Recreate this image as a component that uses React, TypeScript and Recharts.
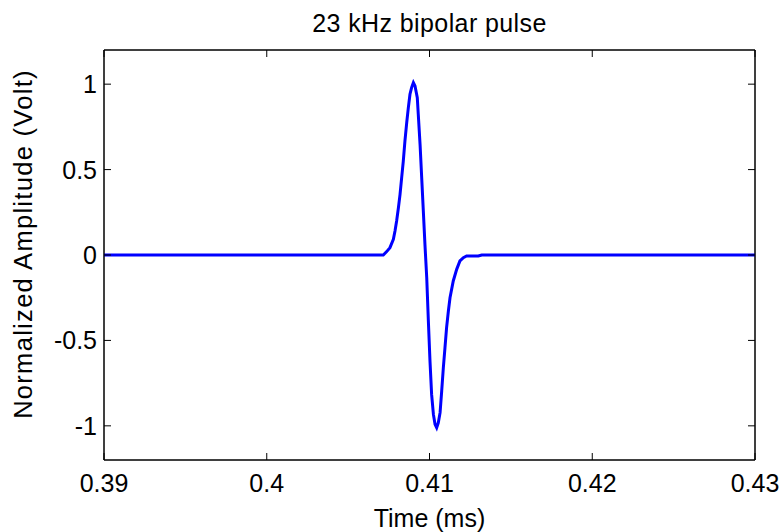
import { LineChart, Line, XAxis, YAxis, ReferenceArea } from "recharts";

// ─── Data ────────────────────────────────────────────────────────────────────

const timeMs = [
	0.39, 0.40716, 0.40737, 0.40757, 0.40778, 0.40788, 0.40798, 0.40809, 0.40819, 0.40829,
	0.40839, 0.40849, 0.4086, 0.4087, 0.4088, 0.4089, 0.40901, 0.40911, 0.40925, 0.40931,
	0.40942, 0.40952, 0.40962, 0.40972, 0.40983, 0.40993, 0.41003, 0.41013, 0.41024, 0.41034,
	0.41044, 0.41054, 0.41065, 0.41075, 0.41085, 0.41095, 0.41105, 0.41116, 0.41126, 0.41146,
	0.41167, 0.41187, 0.41208, 0.41228, 0.413, 0.41321, 0.43,
];

const amplitude = [
	0, 0, 0.02, 0.043, 0.092, 0.14, 0.199, 0.277, 0.355, 0.453,
	0.55, 0.667, 0.775, 0.863, 0.941, 0.98, 1.009, 0.99, 0.921, 0.824,
	0.648, 0.453, 0.258, 0.062, -0.133, -0.386, -0.621, -0.816, -0.933, -0.991,
	-1.011, -0.982, -0.923, -0.796, -0.66, -0.543, -0.425, -0.328, -0.25, -0.152,
	-0.084, -0.035, -0.016, -0.006, -0.006, 0, 0,
];

const xTicks = [0.39, 0.4, 0.41, 0.42, 0.43];
const yTicks = [-1, -0.5, 0, 0.5, 1];
const xDomain = [0.39, 0.43];
const yDomain = [-1.2, 1.2];

const title = "23 kHz bipolar pulse";
const xLabel = "Time (ms)";
const yLabel = "Normalized Amplitude (Volt)";

const data = timeMs.map((t, i) => ({ t, v: amplitude[i] }));

// ─── Styling ─────────────────────────────────────────────────────────────────

const font = "'Liberation Sans', Arial, sans-serif";
const fontSize = 25;
const tickLen = 7;
const axisLine = { stroke: "#000", strokeWidth: 1 };

// MATLAB-style inward ticks, drawn by hand since Recharts only does outward ones
function BottomTick({ x, y, payload }: any) {
	return (
		<g>
			<line x1={x} y1={y} x2={x} y2={y - tickLen} stroke="#000" />
			<text x={x} y={y + 32} textAnchor="middle" fontFamily={font} fontSize={fontSize} fill="#000">
				{String(payload.value)}
			</text>
		</g>
	);
}

function LeftTick({ x, y, payload }: any) {
	return (
		<g>
			<line x1={x} y1={y} x2={x + tickLen} y2={y} stroke="#000" />
			<text x={x - 7} y={y + 9} textAnchor="end" fontFamily={font} fontSize={fontSize} fill="#000">
				{String(payload.value)}
			</text>
		</g>
	);
}

function TopTick({ x, y }: any) {
	return <line x1={x} y1={y} x2={x} y2={y + tickLen} stroke="#000" />;
}

function RightTick({ x, y }: any) {
	return <line x1={x} y1={y} x2={x - tickLen} y2={y} stroke="#000" />;
}

export default function App() {
	return (
		<div
			style={{
				position: "absolute",
				left: 0,
				top: 0,
				width: 784,
				height: 532,
				background: "#fff",
				fontFamily: font,
				color: "#000",
			}}
		>
			<LineChart
				width={784}
				height={532}
				data={data}
				margin={{ top: 49, right: 28, left: 0, bottom: 0 }}
			>
				<XAxis
					xAxisId="bottom"
					dataKey="t"
					type="number"
					domain={xDomain}
					allowDataOverflow
					ticks={xTicks}
					height={72}
					axisLine={axisLine}
					tickLine={false}
					tickSize={0}
					tickMargin={0}
					tick={BottomTick}
				/>
				<XAxis
					xAxisId="top"
					orientation="top"
					dataKey="t"
					type="number"
					domain={xDomain}
					allowDataOverflow
					ticks={xTicks}
					height={1}
					axisLine={axisLine}
					tickLine={false}
					tickSize={0}
					tickMargin={0}
					tick={TopTick}
				/>
				<YAxis
					yAxisId="left"
					type="number"
					domain={yDomain}
					allowDataOverflow
					ticks={yTicks}
					width={104}
					axisLine={axisLine}
					tickLine={false}
					tickSize={0}
					tickMargin={0}
					tick={LeftTick}
				/>
				<YAxis
					yAxisId="right"
					orientation="right"
					type="number"
					domain={yDomain}
					allowDataOverflow
					ticks={yTicks}
					width={1}
					axisLine={axisLine}
					tickLine={false}
					tickSize={0}
					tickMargin={0}
					tick={RightTick}
				/>
				{/* box around the plot area */}
				<ReferenceArea
					xAxisId="bottom"
					yAxisId="left"
					x1={xDomain[0]}
					x2={xDomain[1]}
					y1={yDomain[0]}
					y2={yDomain[1]}
					fill="none"
					fillOpacity={0}
					stroke="#000"
					strokeWidth={1}
					strokeOpacity={1}
					ifOverflow="visible"
				/>
				<Line
					xAxisId="bottom"
					yAxisId="left"
					type="linear"
					dataKey="v"
					stroke="#0000ff"
					strokeWidth={3}
					dot={false}
					activeDot={false}
					isAnimationActive={false}
				/>
			</LineChart>
			<div
				style={{
					position: "absolute",
					left: 104,
					width: 651,
					top: 11,
					textAlign: "center",
					fontSize,
					lineHeight: "25px",
					letterSpacing: "0.4px",
				}}
			>
				{title}
			</div>
			<div
				style={{
					position: "absolute",
					left: 104,
					width: 651,
					top: 506,
					textAlign: "center",
					fontSize,
					lineHeight: "25px",
				}}
			>
				{xLabel}
			</div>
			<div
				style={{
					position: "absolute",
					left: 23,
					top: 244,
					transform: "translate(-50%, -50%) rotate(-90deg)",
					whiteSpace: "nowrap",
					fontSize: 25.5,
					lineHeight: "25px",
					letterSpacing: "1.3px",
				}}
			>
				{yLabel}
			</div>
		</div>
	);
}
